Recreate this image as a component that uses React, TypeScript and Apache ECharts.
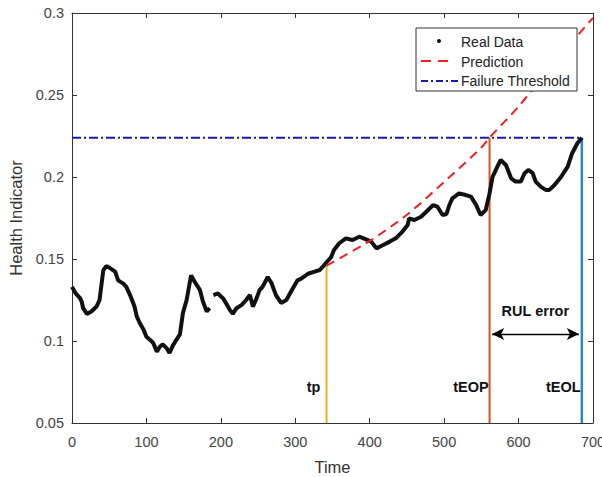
import React, { useEffect, useRef } from "react";
import * as echarts from "echarts";

// Real health-indicator data
const timeReal = [
  0, 5, 11, 13, 15, 20, 26, 33, 37, 42, 46, 51, 58, 62, 69, 73, 78, 84, 87, 91,
  96, 100, 105, 109, 114, 118, 122, 127, 131, 136, 140, 145, 149, 154, 160, 165,
  172, 176, 181, 185, 187, 190, 196, 203, 207, 212, 216, 221, 228, 234, 239, 243,
  248, 252, 256, 263, 268, 274, 281, 288, 297, 303, 308, 317, 326, 333, 337, 342,
  348, 352, 359, 368, 377, 386, 395, 402, 409, 418, 427, 435, 444, 451, 453, 460,
  469, 476, 485, 491, 498, 503, 507, 511, 520, 529, 536, 543, 549, 556, 561, 565,
  572, 576, 583, 590, 596, 603, 608, 613, 619, 623, 630, 637, 641, 648, 657, 666,
  672, 679, 685,
];
const hiReal: (number | null)[] = [
  0.133, 0.129, 0.126, 0.124, 0.12, 0.1165, 0.118, 0.121, 0.125, 0.143, 0.1457,
  0.1445, 0.1423, 0.137, 0.135, 0.133, 0.128, 0.121, 0.115, 0.111, 0.107, 0.1026,
  0.1006, 0.099, 0.0935, 0.0965, 0.098, 0.0957, 0.0927, 0.0976, 0.1006, 0.104,
  0.117, 0.125, 0.14, 0.136, 0.131, 0.124, 0.118, 0.12, null, 0.128, 0.129, 0.126,
  0.123, 0.119, 0.1165, 0.12, 0.122, 0.125, 0.128, 0.121, 0.126, 0.131, 0.133,
  0.139, 0.1354, 0.128, 0.1232, 0.125, 0.1323, 0.137, 0.138, 0.141, 0.1423,
  0.1433, 0.1453, 0.148, 0.151, 0.1555, 0.1596, 0.1626, 0.1616, 0.1636, 0.162,
  0.1606, 0.1565, 0.1585, 0.1606, 0.1626, 0.1667, 0.1707, 0.1748, 0.1738, 0.1758,
  0.1788, 0.1829, 0.1819, 0.1768, 0.1774, 0.1829, 0.187, 0.19, 0.189, 0.188,
  0.1829, 0.1768, 0.18, 0.19, 0.2, 0.2068, 0.2104, 0.2073, 0.1992, 0.1972, 0.1972,
  0.2023, 0.2043, 0.2023, 0.1972, 0.194, 0.192, 0.192, 0.195, 0.2, 0.2063, 0.2145,
  0.2206, 0.224,
];

// Prediction curve
const timePred = [342, 400, 450, 500, 550, 561, 600, 650, 700];
const hiPred = [0.146, 0.161, 0.177, 0.197, 0.218, 0.224, 0.243, 0.271, 0.297];

// Key values
const threshold = 0.224;
const tp = 342;
const tEOP = 561;
const tEOL = 685;
const hiAtTp = 0.1463;
const axisBottom = 0.05;
const arrowY = 0.1043;
const arrowStart = 564.5;
const arrowEnd = 681;

const xMin = 0;
const xMax = 700;
const xStep = 100;
const yMin = 0.05;
const yMax = 0.3;
const yStep = 0.05;

const FONT = "'Liberation Sans', Arial, sans-serif";

export default function App() {
  const ref = useRef<HTMLDivElement>(null);

  useEffect(() => {
    if (!ref.current) return;
    const chart = echarts.init(ref.current, undefined, { renderer: "svg" });

    const axisLineStyle = { color: "#333", width: 1 };
    const fmt = (v: number) => String(Math.round(v * 100) / 100);

    const option: any = {
      animation: false,
      backgroundColor: "#fff",
      textStyle: { fontFamily: FONT },
      grid: {
        left: 72,
        top: 13,
        right: 9,
        bottom: 54,
        containLabel: false,
        outerBoundsMode: "none",
      },
      xAxis: [
        {
          type: "value",
          min: xMin,
          max: xMax,
          interval: xStep,
          position: "bottom",
          name: "Time",
          nameLocation: "middle",
          nameGap: 35,
          nameTextStyle: { fontSize: 16.5, color: "#333", fontFamily: FONT },
          axisLine: { show: true, lineStyle: axisLineStyle },
          axisTick: { show: true, inside: true, length: 5, lineStyle: axisLineStyle },
          axisLabel: { fontSize: 14.5, color: "#444", margin: 11, fontFamily: FONT },
          splitLine: { show: false },
        },
        {
          type: "value",
          min: xMin,
          max: xMax,
          interval: xStep,
          position: "top",
          axisLine: { show: true, onZero: false, lineStyle: axisLineStyle },
          axisTick: { show: true, inside: true, length: 5, lineStyle: axisLineStyle },
          axisLabel: { show: false },
          splitLine: { show: false },
        },
      ],
      yAxis: [
        {
          type: "value",
          min: yMin,
          max: yMax,
          interval: yStep,
          position: "left",
          name: "Health Indicator",
          nameLocation: "middle",
          nameGap: 45,
          nameTextStyle: { fontSize: 16.5, color: "#333", fontFamily: FONT },
          axisLine: { show: true, lineStyle: axisLineStyle },
          axisTick: { show: true, inside: true, length: 5, lineStyle: axisLineStyle },
          axisLabel: { fontSize: 14.5, color: "#444", margin: 8, formatter: fmt, fontFamily: FONT },
          splitLine: { show: false },
        },
        {
          type: "value",
          min: yMin,
          max: yMax,
          interval: yStep,
          position: "right",
          axisLine: { show: true, onZero: false, lineStyle: axisLineStyle },
          axisTick: { show: true, inside: true, length: 5, lineStyle: axisLineStyle },
          axisLabel: { show: false },
          splitLine: { show: false },
        },
      ],
      series: [
        {
          name: "Real Data",
          type: "line",
          data: timeReal.map((t, i) => [t, hiReal[i]]),
          showSymbol: false,
          connectNulls: false,
          lineStyle: { color: "#111", width: 4 },
          z: 3,
        },
        {
          name: "Failure Threshold",
          type: "line",
          data: [
            [xMin, threshold],
            [tEOL, threshold],
          ],
          showSymbol: false,
          lineStyle: { color: "#1a1aa8", width: 2, type: [9, 3, 2, 3] },
          z: 2,
        },
        {
          name: "tp",
          type: "line",
          data: [
            [tp, axisBottom],
            [tp, hiAtTp],
          ],
          showSymbol: false,
          lineStyle: { color: "#EDB120", width: 2 },
          z: 2,
        },
        {
          name: "tEOP",
          type: "line",
          data: [
            [tEOP, axisBottom],
            [tEOP, threshold],
          ],
          showSymbol: false,
          lineStyle: { color: "#D95319", width: 2 },
          z: 2,
        },
        {
          name: "tEOL",
          type: "line",
          data: [
            [tEOL, axisBottom],
            [tEOL, threshold],
          ],
          showSymbol: false,
          lineStyle: { color: "#2a85c8", width: 2.5 },
          z: 2,
          markLine: {
            silent: true,
            symbol: ["arrow", "arrow"],
            symbolSize: [9, 12],
            label: { show: false },
            lineStyle: { color: "#000", width: 1.3, type: "solid" },
            data: [[{ coord: [arrowStart, arrowY] }, { coord: [arrowEnd, arrowY] }]],
          },
        },
        {
          name: "Prediction",
          type: "line",
          data: timePred.map((t, i) => [t, hiPred[i]]),
          showSymbol: false,
          smooth: 0.3,
          lineStyle: { color: "#f02020", width: 2, type: [9, 6] },
          z: 4,
        },
      ],
    };

    chart.setOption(option);

    const px = (x: number, y: number) => chart.convertToPixel({ gridIndex: 0 }, [x, y]) as number[];
    const labelStyle = (text: string, x: number, y: number) => {
      const p = px(x, y);
      return {
        type: "text",
        x: p[0],
        y: p[1],
        z: 50,
        style: {
          text,
          fill: "#111",
          font: `bold 14.5px ${FONT}`,
          align: "center",
          verticalAlign: "middle",
        },
      };
    };

    const lx = 416;
    const ly = 28;
    const legendFont = `14px ${FONT}`;
    chart.setOption({
      graphic: [
        labelStyle("tp", 324.5, 0.0721),
        labelStyle("tEOP", 536, 0.0721),
        labelStyle("tEOL", 660, 0.0721),
        labelStyle("RUL error", 622.5, 0.1183),
        {
          type: "group",
          z: 100,
          children: [
            {
              type: "rect",
              shape: { x: lx, y: ly, width: 161, height: 63 },
              style: { fill: "#fff", stroke: "#333", lineWidth: 1 },
              z: 100,
            },
            {
              type: "circle",
              shape: { cx: lx + 23, cy: ly + 13, r: 2 },
              style: { fill: "#111" },
              z: 101,
            },
            {
              type: "line",
              shape: { x1: lx + 5, y1: ly + 33, x2: lx + 35, y2: ly + 33 },
              style: { stroke: "#f02020", lineWidth: 2, lineDash: [10, 7] },
              z: 101,
            },
            {
              type: "line",
              shape: { x1: lx + 5, y1: ly + 53, x2: lx + 44, y2: ly + 53 },
              style: { stroke: "#1a1aa8", lineWidth: 2, lineDash: [7, 3, 2, 3] },
              z: 101,
            },
            {
              type: "text",
              x: lx + 45,
              y: ly + 14,
              z: 101,
              style: { text: "Real Data", fill: "#222", font: legendFont, verticalAlign: "middle" },
            },
            {
              type: "text",
              x: lx + 45,
              y: ly + 34,
              z: 101,
              style: { text: "Prediction", fill: "#222", font: legendFont, verticalAlign: "middle" },
            },
            {
              type: "text",
              x: lx + 45,
              y: ly + 53,
              z: 101,
              style: { text: "Failure Threshold", fill: "#222", font: legendFont, verticalAlign: "middle" },
            },
          ],
        },
      ],
    });

    return () => chart.dispose();
  }, []);

  return (
    <div
      ref={ref}
      style={{ position: "fixed", left: 0, top: 0, width: 602, height: 477, background: "#fff" }}
    />
  );
}
